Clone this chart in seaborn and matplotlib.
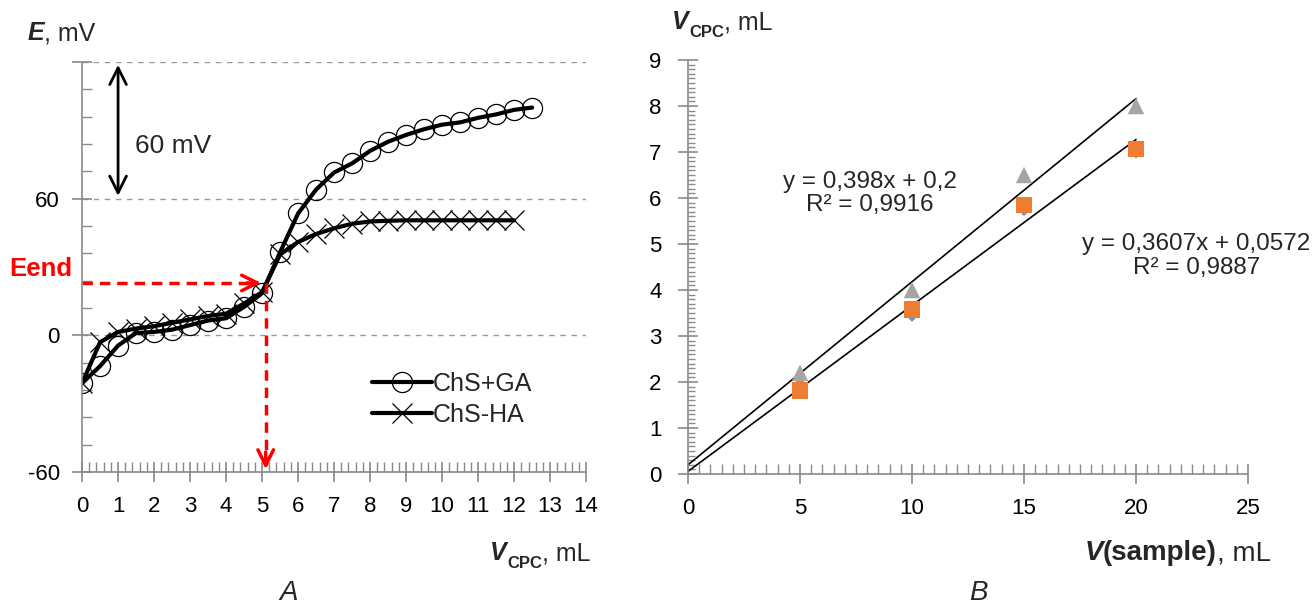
import numpy as np
import pandas as pd
import seaborn as sns
import matplotlib.pyplot as plt
from matplotlib.ticker import MultipleLocator

# Painel A: curvas de titulação potenciométrica
v_cpc = [0, 0.5, 1, 1.5, 2, 2.5, 3, 3.5, 4, 4.5, 5, 5.5, 6, 6.5, 7, 7.5, 8,
         8.5, 9, 9.5, 10, 10.5, 11, 11.5, 12, 12.5]
e_chs_ga = [-21, -13.5, -4.5, 1, 1.5, 2.5, 4.5, 6.5, 7.5, 12.5, 18.5, 36.5,
            53.5, 64, 71.5, 75.5, 81, 85, 88, 90.5, 92.5, 93.5, 95.5, 97,
            99, 100]
v_cpc_ha = [0, 0.5, 1, 1.5, 2, 2.5, 3, 3.5, 4, 4.5, 5, 5.5, 6, 6.5, 7, 7.5,
            8, 8.5, 9, 9.5, 10, 10.5, 11, 11.5, 12]
e_chs_ha = [-21, -3, 1.5, 3, 4, 5.5, 7, 8.5, 9.5, 14, 19, 35.5, 41, 44.5,
            47, 49, 50, 50.3, 50.5, 50.5, 50.5, 50.5, 50.5, 50.5, 50.5]
e_end = 23
v_end = 5.1

# Painel B: volume de CPC x volume de amostra
v_amostra = [5, 10, 15, 20]
v_azul = [1.95, 3.45, 5.75, 7.0]
v_laranja = [1.82, 3.58, 5.85, 7.07]
v_cinza = [2.2, 4.0, 6.5, 8.0]
inclinacoes = [0.398, 0.3607]
interceptos = [0.2, 0.0572]
equacoes = ['y = 0,398x + 0,2\nR² = 0,9916', 'y = 0,3607x + 0,0572\nR² = 0,9887']

sns.set_style('white')
plt.rcParams['font.family'] = ['Liberation Sans', 'DejaVu Sans']
plt.rcParams['axes.unicode_minus'] = False

cinza_eixo = '#8a8a8a'
fs_tick = 16
fs_txt = 18

fig = plt.figure(figsize=(13.13, 6.05), dpi=100)
ax1 = fig.add_axes([0.0625, 0.2198, 0.3839, 0.6777])
ax2 = fig.add_axes([0.524, 0.2165, 0.4265, 0.6843])

# ---------- painel A ----------
df_ga = pd.DataFrame({'v': v_cpc, 'e': e_chs_ga})
df_ha = pd.DataFrame({'v': v_cpc_ha, 'e': e_chs_ha})
sns.lineplot(data=df_ga, x='v', y='e', ax=ax1, color='black', lw=3,
             marker='o', markersize=14.5, mfc='none', mec='black', mew=0.9,
             label='ChS+GA')
sns.lineplot(data=df_ha, x='v', y='e', ax=ax1, color='black', lw=3,
             marker='x', markersize=14, mec='black', mew=0.9,
             label='ChS-HA')

ax1.set_xlim(0, 14)
ax1.set_ylim(-60, 120)
ax1.set_xticks(range(0, 15))
ax1.xaxis.set_minor_locator(MultipleLocator(0.2))
ax1.set_yticks([-60, 0, 60, 120])
ax1.set_yticklabels(['-60', '0', '60', ''])
ax1.yaxis.set_minor_locator(MultipleLocator(12))
ax1.yaxis.grid(True, which='major', ls=(0, (4, 4)), color='#9a9a9a', lw=1)
ax1.set_xlabel('')
ax1.set_ylabel('')

# setas vermelhas (ponto final)
ax1.plot([0, v_end - 0.25], [e_end, e_end], color='red', lw=2.5, ls=(0, (3, 2)))
ax1.annotate('', xy=(v_end - 0.05, e_end), xytext=(v_end - 0.6, e_end),
             arrowprops=dict(arrowstyle='->', color='red', lw=2.5, mutation_scale=28))
ax1.plot([v_end, v_end], [e_end, -57], color='red', lw=2.5, ls=(0, (3, 2)))
ax1.annotate('', xy=(v_end, -60), xytext=(v_end, -50),
             arrowprops=dict(arrowstyle='->', color='red', lw=2.5, mutation_scale=28))
ax1.text(-1.15, 29, 'Eend', color='red', fontsize=18.5, fontweight='bold',
         ha='center', va='center', clip_on=False)

# escala de 60 mV
ax1.annotate('', xy=(1.0, 120), xytext=(1.0, 60),
             arrowprops=dict(arrowstyle='<->', color='black', lw=2, mutation_scale=30))
ax1.text(1.47, 83, '60 mV', fontsize=19, ha='left', va='center')

ax1.legend(loc='upper left', bbox_to_anchor=(0.53, 0.30), frameon=False,
           fontsize=fs_txt, handlelength=2.4, handletextpad=0.05, labelspacing=0.3)

# ---------- painel B ----------
df_b = pd.DataFrame({'x': v_amostra, 'azul': v_azul, 'laranja': v_laranja, 'cinza': v_cinza})
sns.scatterplot(data=df_b, x='x', y='azul', ax=ax2, marker='D', s=45,
                color='#5b9bd5', edgecolor='none', zorder=3)
sns.scatterplot(data=df_b, x='x', y='laranja', ax=ax2, marker='s', s=140,
                color='#ed7d31', edgecolor='none', zorder=3)
sns.scatterplot(data=df_b, x='x', y='cinza', ax=ax2, marker='^', s=140,
                color='#a5a5a5', edgecolor='none', zorder=3)

x_tend = np.array([0, max(v_amostra)])
for a, b in zip(inclinacoes, interceptos):
    sns.lineplot(x=x_tend, y=a * x_tend + b, ax=ax2, color='black', lw=1.2, zorder=2)

ax2.text(8.1, 6.1, equacoes[0], fontsize=17.5, ha='center', va='center', linespacing=1.1)
ax2.text(22.7, 4.74, equacoes[1], fontsize=17.5, ha='center', va='center',
         linespacing=1.1, clip_on=False)

ax2.set_xlim(0, 25)
ax2.set_ylim(0, 9)
ax2.set_xticks(range(0, 26, 5))
ax2.xaxis.set_minor_locator(MultipleLocator(0.5))
ax2.set_yticks(range(0, 10))
ax2.yaxis.set_minor_locator(MultipleLocator(0.1))
ax2.set_xlabel('')
ax2.set_ylabel('')

for ax in (ax1, ax2):
    for s in ('top', 'right'):
        ax.spines[s].set_visible(False)
    for s in ('left', 'bottom'):
        ax.spines[s].set_color(cinza_eixo)
        ax.spines[s].set_linewidth(1.2)
    ax.tick_params(which='both', bottom=True, left=True)
    ax.tick_params(which='major', direction='inout', length=14, width=1.2,
                   color=cinza_eixo, labelsize=fs_tick, labelcolor='black')
    ax.tick_params(which='minor', direction='in', length=7, width=1,
                   color=cinza_eixo)
    ax.tick_params(axis='x', which='major', pad=10)
ax1.tick_params(axis='y', which='major', pad=9)
ax2.tick_params(axis='y', which='major', pad=12)
ax2.tick_params(axis='y', which='minor', length=5)


# rótulos com partes em negrito/itálico/subscrito
def subscrito(base, texto, estilo):
    a = plt.Annotation(texto, xy=(1, 0), xycoords=base, xytext=(0.5, -4),
                       textcoords='offset points', va='bottom', fontsize=12, **estilo)
    fig.add_artist(a)
    return a


def rotulo(x, y, partes, tam=fs_txt):
    base = fig.text(x, y, partes[0][0], fontsize=tam, va='bottom', **partes[0][1])
    ult = base
    for texto, estilo, sub in partes[1:]:
        if sub:
            ult = subscrito(base, texto, estilo)
        else:
            a = plt.Annotation(texto, xy=(1, 0), xycoords=(ult, base), va='bottom',
                               fontsize=tam, **estilo)
            fig.add_artist(a)
            ult = a


bi = dict(fontweight='bold', fontstyle='italic')
b = dict(fontweight='bold')
rotulo(0.021, 0.925, [('E', bi), (', mV', {}, False)])
rotulo(0.373, 0.066, [('V', bi), ('CPC', b, True), (', mL', {}, False)])
rotulo(0.512, 0.943, [('V', bi), ('CPC', b, True), (', mL', {}, False)])
rotulo(0.826, 0.064, [('V', bi), ('(sample)', b, False), (', mL', {}, False)], tam=20)

fig.text(289 / 1313, 0.02, 'A', fontsize=20, fontstyle='italic', ha='center', va='center')
fig.text(978 / 1313, 0.02, 'B', fontsize=20, fontstyle='italic', ha='center', va='center')

fig.savefig('out.png', dpi=100)
